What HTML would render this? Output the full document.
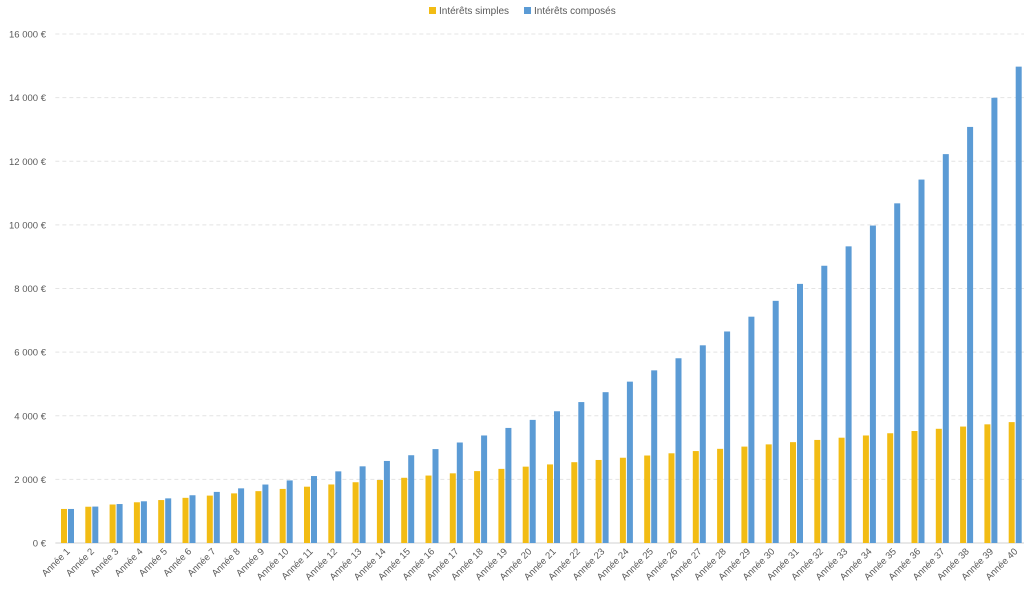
<!DOCTYPE html>
<html><head><meta charset="utf-8"><style>
body{margin:0;background:#fff;}
svg{display:block;font-family:"Liberation Sans",sans-serif;}
</style></head><body>
<svg id="chart" width="1024" height="593">
<g>
<rect x="429" y="7" width="7" height="7" fill="#f2bc14"/>
<text x="439" y="14" font-size="10" fill="#595959">Intérêts simples</text>
<rect x="524" y="7" width="7" height="7" fill="#5b9bd5"/>
<text x="534" y="14" font-size="10" fill="#595959">Intérêts composés</text>
</g>
<g id="grid"></g><g id="bars"></g><g id="labels"></g>
</svg>
<script>
const categories=[];for(let i=1;i<=40;i++)categories.push('Année '+i);
const simpleValues=[1070,1140,1210,1280,1350,1420,1490,1560,1630,1700,1770,1840,1910,1980,2050,2120,2190,2260,2330,2400,2470,2540,2610,2680,2750,2820,2890,2960,3030,3100,3170,3240,3310,3380,3450,3520,3590,3660,3730,3800];
const compoundValues=[1070,1145,1225,1311,1403,1501,1606,1718,1838,1967,2105,2252,2410,2579,2759,2952,3159,3380,3617,3870,4141,4430,4741,5072,5427,5807,6214,6649,7114,7612,8145,8715,9325,9978,10677,11424,12224,13079,13995,14974];
const yTicks=[0,2000,4000,6000,8000,10000,12000,14000,16000];
const yTickLabels=['0 €','2 000 €','4 000 €','6 000 €','8 000 €','10 000 €','12 000 €','14 000 €','16 000 €'];
const NS='http://www.w3.org/2000/svg';
const y0=543,y1=34,yMax=16000,left=55.35,step=24.3;
const y=v=>y0-(v/yMax)*(y0-y1);
const xc=i=>left+step*(i+0.5);
function mk(t,a,p){const e=document.createElementNS(NS,t);for(const k in a)e.setAttribute(k,a[k]);p.appendChild(e);return e;}
const grid=document.getElementById('grid'),bars=document.getElementById('bars'),labels=document.getElementById('labels');
yTicks.forEach((v,i)=>{
 const l=mk('line',{x1:left,x2:1024,y1:y(v),y2:y(v),stroke:i==0?'#d0d0d0':'#e4e4e4','stroke-dasharray':i==0?'':'4,3'},grid);
 
 
 const t=mk('text',{x:46,y:y(v)+3.5,'text-anchor':'end','font-size':'9.5',fill:'#595959'},labels);
 t.textContent=yTickLabels[i];
 
 
});
categories.forEach((c,i)=>{
 const cx=xc(i);
 const b1=mk('rect',{x:cx-6.5,y:y(simpleValues[i]),width:6,height:y0-y(simpleValues[i]),fill:'#f2bc14'},bars);
 
 
 const b2=mk('rect',{x:cx+0.5,y:y(compoundValues[i]),width:6,height:y0-y(compoundValues[i]),fill:'#5b9bd5'},bars);
 
 
 const t=mk('text',{x:cx+3,y:552,'text-anchor':'end','font-size':'9.5',fill:'#595959',transform:`rotate(-45 ${cx+3} 552)`},labels);
 t.textContent=c;
 
 
});
</script>
</body></html>
